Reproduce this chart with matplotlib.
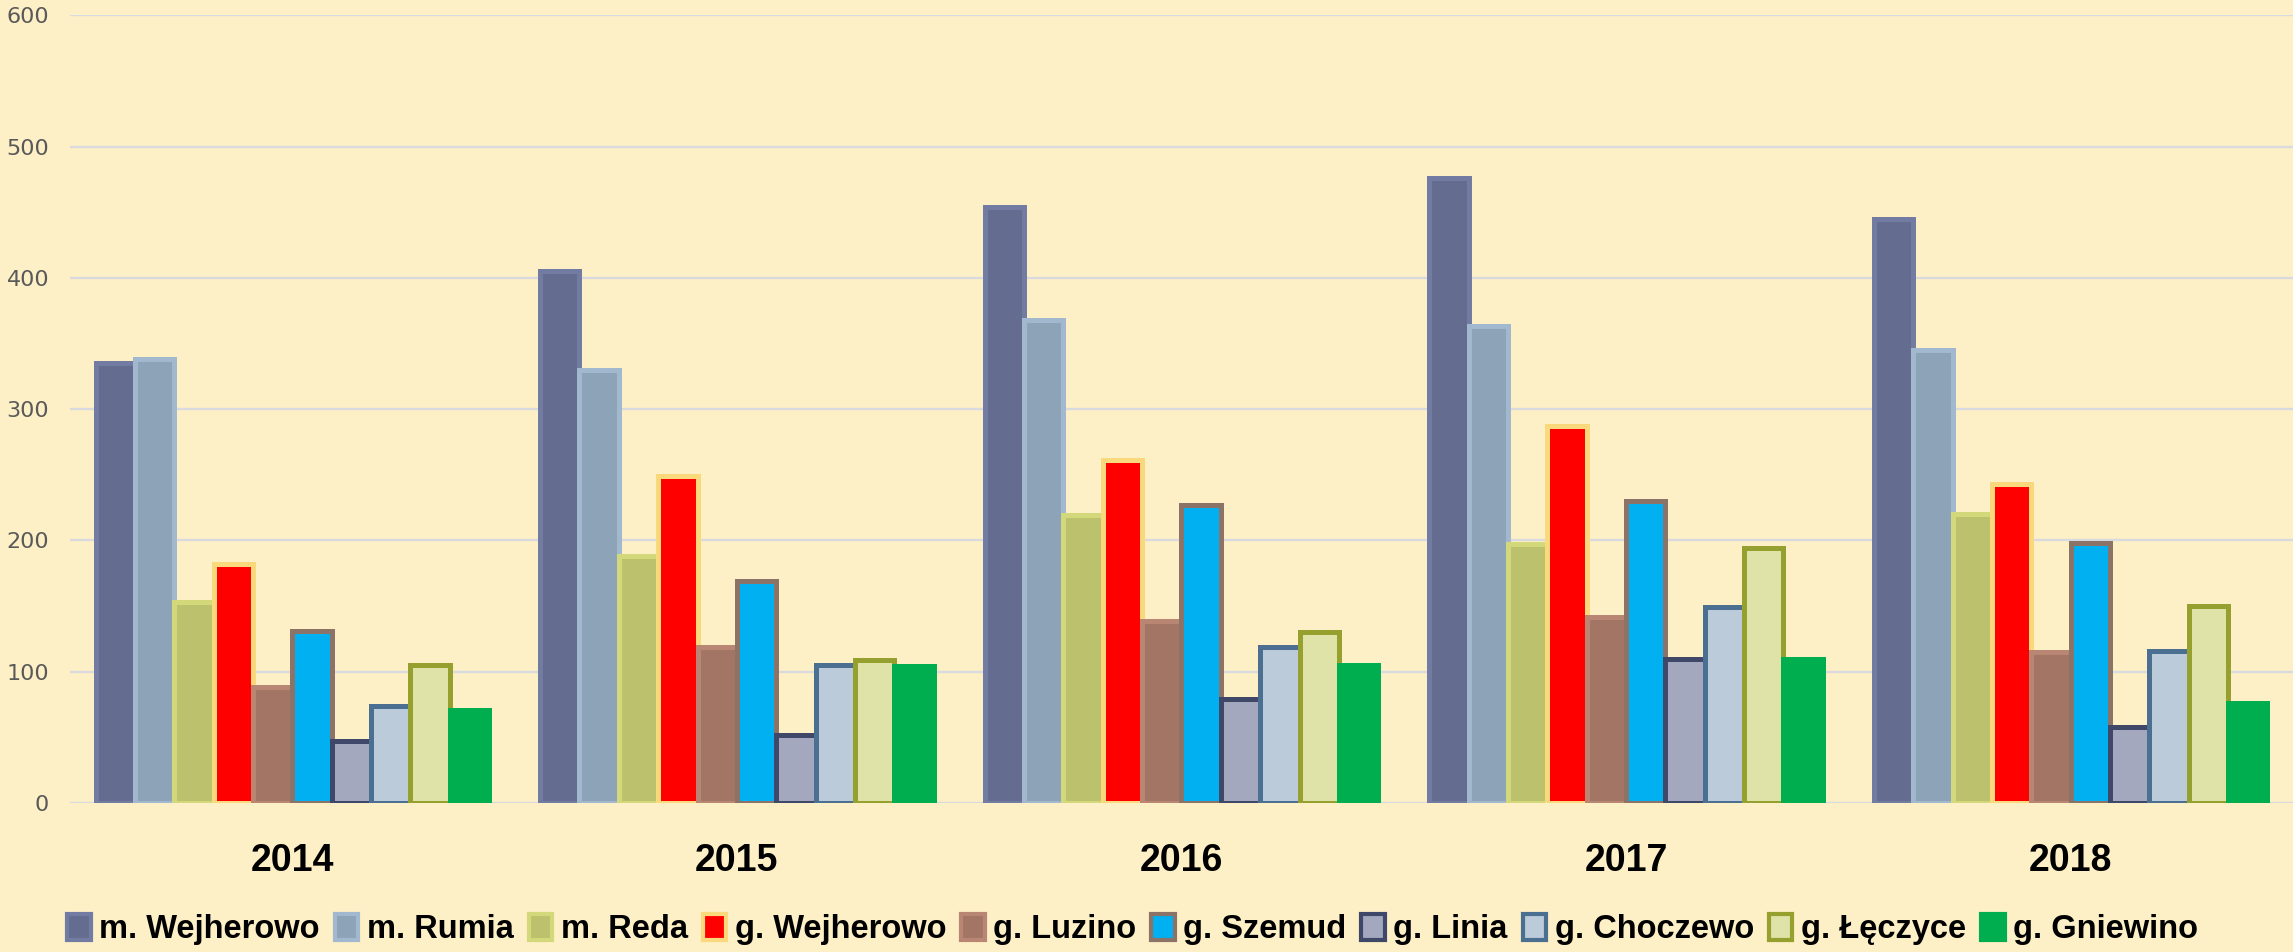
"""Grouped bar chart: ten municipalities, 2014-2018."""

import matplotlib.pyplot as plt
import numpy as np
from matplotlib.patches import Patch

years = ["2014", "2015", "2016", "2017", "2018"]

series_names = [
    "m. Wejherowo",
    "m. Rumia",
    "m. Reda",
    "g. Wejherowo",
    "g. Luzino",
    "g. Szemud",
    "g. Linia",
    "g. Choczewo",
    "g. Łęczyce",
    "g. Gniewino",
]

m_wejherowo = [335, 405, 454, 476, 445]
m_rumia = [338, 330, 368, 363, 345]
m_reda = [153, 188, 219, 197, 220]
g_wejherowo = [182, 249, 261, 287, 243]
g_luzino = [88, 119, 139, 142, 115]
g_szemud = [131, 169, 227, 230, 198]
g_linia = [47, 52, 79, 110, 58]
g_choczewo = [74, 105, 119, 149, 116]
g_leczyce = [105, 109, 130, 194, 150]
g_gniewino = [71, 104, 105, 110, 76]

values = [
    m_wejherowo, m_rumia, m_reda, g_wejherowo, g_luzino,
    g_szemud, g_linia, g_choczewo, g_leczyce, g_gniewino,
]

fill_colors = [
    "#646C8F", "#8DA3B8", "#BBC16C", "#FF0000", "#A27565",
    "#00B0F0", "#A3A8BF", "#BBCBDA", "#DFE3A7", "#00AE4F",
]
edge_colors = [
    "#727CA2", "#A1B8CF", "#D3D97A", "#FAD97C", "#B88672",
    "#8B7368", "#3F4868", "#4B6F91", "#96A02F", "#00AE4F",
]

BG = "#FDEFC6"
BOLD_FONT = ["Liberation Sans", "DejaVu Sans"]

fig = plt.figure(figsize=(22.93, 9.52), dpi=100, facecolor=BG)
ax = fig.add_axes([0.0305, 0.1565, 0.9695, 0.8275], facecolor=BG)

x = np.arange(len(years))
n = len(series_names)
w = 0.885 / n
for j in range(n):
    offs = (j - (n - 1) / 2) * w
    ax.bar(
        x + offs, values[j], width=w,
        color=fill_colors[j], edgecolor=edge_colors[j],
        linewidth=3.6, zorder=3 + j,
    )

ax.set_xlim(-0.5, len(years) - 0.5)
ax.set_ylim(0, 600)
ax.set_yticks(range(0, 601, 100))
ax.yaxis.grid(True, color="#D8DAE0", linewidth=1.6, zorder=0)
ax.set_axisbelow(True)
for s in ax.spines.values():
    s.set_visible(False)
ax.tick_params(axis="y", length=0, pad=15, labelsize=16, labelcolor="#595959")
ax.tick_params(axis="x", length=0, pad=29)
ax.set_xticks(x)
ax.set_xticklabels(years, fontsize=27, fontweight="bold", family=BOLD_FONT)

# legend squares keep the series outline colour
handles = [
    Patch(facecolor=fill_colors[j], edgecolor=edge_colors[j], linewidth=3)
    for j in range(n)
]
fig.legend(
    handles, series_names, loc="lower center", ncol=n,
    bbox_to_anchor=(0.494, -0.01), frameon=False, borderpad=0,
    prop={"family": BOLD_FONT, "weight": "bold", "size": 23.5},
    handlelength=0.72, handleheight=0.85, handletextpad=0.26, columnspacing=0.46,
)

fig.savefig("out.png", dpi=100, facecolor=BG)
